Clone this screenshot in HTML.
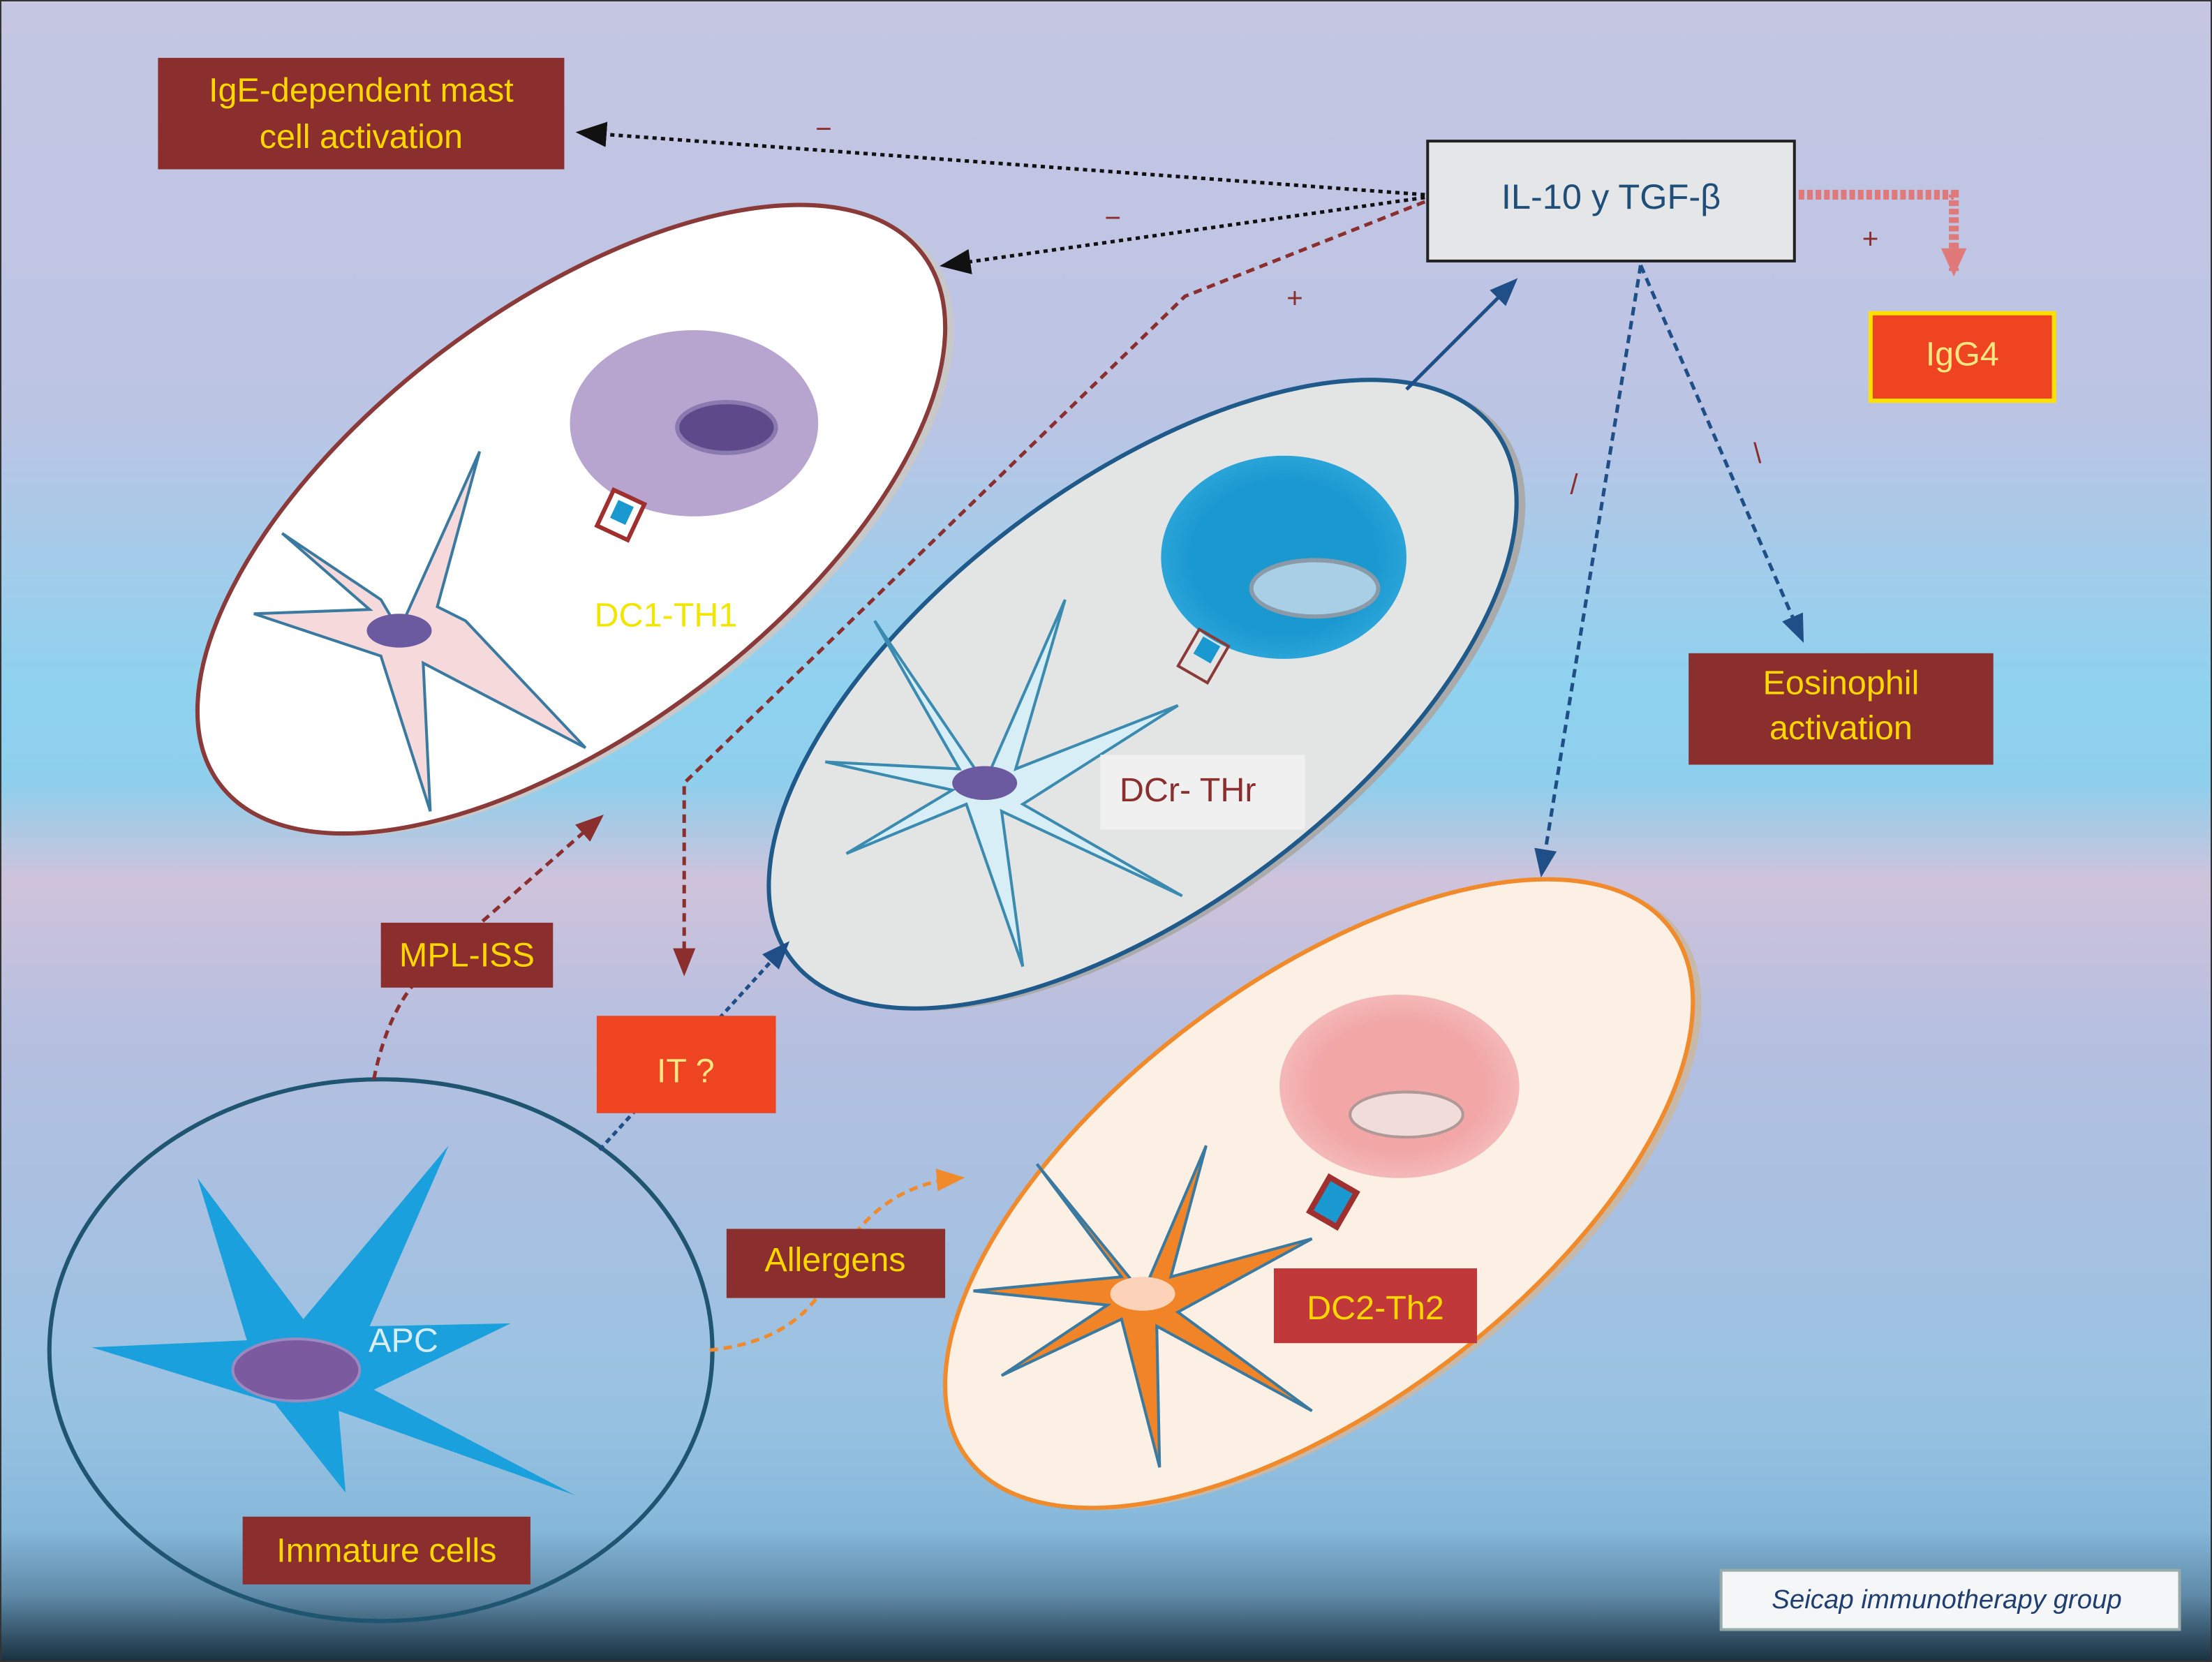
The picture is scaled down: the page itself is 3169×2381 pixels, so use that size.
<!DOCTYPE html>
<html><head><meta charset="utf-8"><style>
html,body{margin:0;padding:0;background:#fff}
svg{display:block}
text{font-family:"Liberation Sans",sans-serif}
</style></head><body>
<svg width="3169" height="2381" viewBox="0 0 1568 1178" preserveAspectRatio="none" xmlns="http://www.w3.org/2000/svg">
<defs>
<linearGradient id="bg" x1="0" y1="0" x2="0" y2="1">
<stop offset="0" stop-color="#c4c6e2"/>
<stop offset="0.25" stop-color="#bcc4e4"/>
<stop offset="0.41" stop-color="#8fd2ef"/>
<stop offset="0.47" stop-color="#8dcfec"/>
<stop offset="0.53" stop-color="#cfc3db"/>
<stop offset="0.62" stop-color="#b6bfe0"/>
<stop offset="0.85" stop-color="#98c2e2"/>
<stop offset="0.92" stop-color="#86b8da"/>
<stop offset="0.96" stop-color="#5f8aa8"/>
<stop offset="1" stop-color="#18303f"/>
</linearGradient>
<radialGradient id="blueC" cx="0.5" cy="0.5" r="0.5"><stop offset="0.75" stop-color="#1a98d0"/><stop offset="1" stop-color="#2aa4d8"/></radialGradient>
<radialGradient id="pinkC" cx="0.5" cy="0.5" r="0.5"><stop offset="0.7" stop-color="#f2a6a6"/><stop offset="1" stop-color="#f4b8b8"/></radialGradient>
<marker id="ak" markerWidth="22" markerHeight="18" refX="18" refY="9" orient="auto" markerUnits="userSpaceOnUse" viewBox="0 0 22 18"><path d="M0,0 L22,9 L0,18 z" fill="#111"/></marker>
<marker id="ab" markerWidth="20" markerHeight="16" refX="16" refY="8" orient="auto" markerUnits="userSpaceOnUse" viewBox="0 0 20 16"><path d="M0,0 L20,8 L0,16 z" fill="#1f4f86"/></marker>
<marker id="ar" markerWidth="20" markerHeight="16" refX="16" refY="8" orient="auto" markerUnits="userSpaceOnUse" viewBox="0 0 20 16"><path d="M0,0 L20,8 L0,16 z" fill="#8b2e2e"/></marker>
<marker id="ao" markerWidth="20" markerHeight="16" refX="16" refY="8" orient="auto" markerUnits="userSpaceOnUse" viewBox="0 0 20 16"><path d="M0,0 L20,8 L0,16 z" fill="#f08a2a"/></marker>
<marker id="ap" markerWidth="20" markerHeight="18" refX="16" refY="9" orient="auto" markerUnits="userSpaceOnUse" viewBox="0 0 20 18"><path d="M0,0 L20,9 L0,18 z" fill="#e07a7a"/></marker>
</defs>
<rect x="0" y="0" width="1568" height="1178" fill="url(#bg)" stroke="#333" stroke-width="2"/>

<!-- ellipses -->
<g transform="translate(405,368) rotate(-37)">
<ellipse rx="312" ry="150" fill="#c8c8c8" transform="translate(4,5)"/>
<ellipse rx="312" ry="150" fill="#ffffff" stroke="#8b3a3a" stroke-width="3"/></g>
<g transform="translate(810,492) rotate(-37)">
<ellipse rx="312" ry="150" fill="#aaa" transform="translate(4,5)"/>
<ellipse rx="312" ry="150" fill="#e3e5e5" stroke="#1f5a8a" stroke-width="3"/></g>
<g transform="translate(935,846) rotate(-37)">
<ellipse rx="312" ry="150" fill="#c8b8a8" transform="translate(4,5)"/>
<ellipse rx="312" ry="150" fill="#fcefe3" stroke="#f08a2a" stroke-width="3"/></g>
<ellipse cx="270" cy="957" rx="235" ry="192" fill="none" stroke="#1f5570" stroke-width="3"/>

<!-- T cells -->
<ellipse cx="492" cy="300" rx="88" ry="66" fill="#b7a4cf"/>
<ellipse cx="515" cy="303" rx="35" ry="18" fill="#5e4a8a" stroke="#8a7ab0" stroke-width="3"/>
<ellipse cx="910" cy="395" rx="87" ry="72" fill="url(#blueC)"/>
<ellipse cx="932" cy="417" rx="45" ry="20" fill="#a8cfe6" stroke="#8a9aa8" stroke-width="3"/>
<ellipse cx="992" cy="770" rx="85" ry="65" fill="url(#pinkC)"/>
<ellipse cx="997" cy="790" rx="40" ry="16" fill="#f0dcd8" stroke="#b09898" stroke-width="2"/>

<!-- receptors -->
<g transform="translate(440,365) rotate(25)"><rect x="-12" y="-14" width="24" height="28" fill="#fff" stroke="#a03030" stroke-width="3"/><rect x="-6" y="-9" width="12" height="14" fill="#1a98d0"/></g>
<g transform="translate(853,465) rotate(30)"><rect x="-12" y="-15" width="24" height="30" fill="none" stroke="#8b3a3a" stroke-width="2"/><rect x="-7" y="-12" width="14" height="14" fill="#1a98d0"/></g>
<g transform="translate(945,852) rotate(30)"><rect x="-11" y="-14" width="22" height="28" fill="#1a98d0" stroke="#a03030" stroke-width="4"/></g>

<!-- stars -->
<path d="M283,447 L340,320 L310,430 L330,440 L415,530 L300,470 L305,575 L270,465 L180,435 L262,432 L200,378 L270,425 Z" fill="#f6d9da" stroke="#3b7aa0" stroke-width="2"/>
<ellipse cx="283" cy="447" rx="23" ry="12" fill="#6b5aa0"/>
<path d="M698,555 L755,425 L720,545 L835,500 L725,570 L838,635 L710,575 L725,685 L685,570 L600,605 L675,560 L585,540 L680,545 L620,440 Z" fill="#d7eef6" stroke="#3b8ab0" stroke-width="2"/>
<ellipse cx="698" cy="555" rx="23" ry="12" fill="#6b5aa0"/>
<path d="M810,917 L855,812 L830,905 L930,878 L835,930 L930,1000 L820,940 L822,1040 L795,935 L710,975 L785,925 L690,915 L795,905 L735,825 Z" fill="#f08426" stroke="#3b7aa0" stroke-width="2"/>
<ellipse cx="810" cy="917" rx="23" ry="12" fill="#fcd2b8"/>
<path d="M140,835 L215,935 L318,812 L262,940 L362,938 L265,985 L408,1060 L240,1000 L245,1058 L195,995 L65,955 L175,950 Z" fill="#1aa0dc"/>
<ellipse cx="210" cy="971" rx="45" ry="22" fill="#7b5aa0" stroke="#9a8ac0" stroke-width="2"/>

<!-- arrows -->
<line x1="1010" y1="138" x2="412" y2="94" stroke="#111" stroke-width="2.5" stroke-dasharray="3,3" marker-end="url(#ak)"/>
<line x1="1010" y1="140" x2="670" y2="188" stroke="#111" stroke-width="2.5" stroke-dasharray="3,3" marker-end="url(#ak)"/>
<path d="M1010,143 L840,210 L485,555 L485,688" fill="none" stroke="#8b2e2e" stroke-width="2.5" stroke-dasharray="6,4" marker-end="url(#ar)"/>
<line x1="997" y1="276" x2="1073" y2="200" stroke="#1f4f86" stroke-width="2.5" marker-end="url(#ab)"/>
<line x1="1163" y1="188" x2="1093" y2="618" stroke="#1f4f86" stroke-width="2.5" stroke-dasharray="6,4" marker-end="url(#ab)"/>
<line x1="1163" y1="188" x2="1277" y2="452" stroke="#1f4f86" stroke-width="2.5" stroke-dasharray="6,4" marker-end="url(#ab)"/>
<path d="M1275,138 L1385,138 L1385,192" fill="none" stroke="#e07a7a" stroke-width="7" stroke-dasharray="4,2" marker-end="url(#ap)"/>
<path d="M265,765 Q275,715 300,690 L425,580" fill="none" stroke="#8b2e2e" stroke-width="2.5" stroke-dasharray="6,4" marker-end="url(#ar)"/>
<line x1="425" y1="815" x2="557" y2="670" stroke="#1f4f86" stroke-width="2.5" stroke-dasharray="4,3" marker-end="url(#ab)"/>
<path d="M503,957 Q570,950 590,900 Q620,840 680,835" fill="none" stroke="#f08a2a" stroke-width="2.5" stroke-dasharray="6,4" marker-end="url(#ao)"/>

<!-- signs -->
<g fill="#8b2e2e" font-size="20">
<text x="578" y="98">−</text><text x="783" y="161">−</text><text x="912" y="218">+</text><text x="1320" y="176">+</text>
<text x="1113" y="350">/</text><text x="1243" y="328">\</text></g>

<!-- boxes -->
<rect x="112" y="41" width="288" height="79" fill="#8b2e2e"/>
<text x="256" y="72" text-anchor="middle" font-size="24" fill="#ffd700">IgE-dependent mast</text>
<text x="256" y="105" text-anchor="middle" font-size="24" fill="#ffd700">cell activation</text>
<rect x="1012" y="100" width="260" height="85" fill="#e4e6e8" stroke="#222" stroke-width="2"/>
<text x="1142" y="148" text-anchor="middle" font-size="25" fill="#1f4e79">IL-10 y TGF-β</text>
<rect x="1326" y="222" width="130" height="62" fill="#ee4422" stroke="#ffe000" stroke-width="3"/>
<text x="1391" y="259" text-anchor="middle" font-size="24" fill="#ffe680">IgG4</text>
<rect x="1197" y="463" width="216" height="79" fill="#8b2e2e"/>
<text x="1305" y="492" text-anchor="middle" font-size="24" fill="#ffd700">Eosinophil</text>
<text x="1305" y="524" text-anchor="middle" font-size="24" fill="#ffd700">activation</text>
<rect x="270" y="654" width="122" height="46" fill="#8b2e2e"/>
<text x="331" y="685" text-anchor="middle" font-size="24" fill="#ffd700">MPL-ISS</text>
<rect x="423" y="720" width="127" height="69" fill="#ee4422"/>
<text x="486" y="767" text-anchor="middle" font-size="24" fill="#ffe680">IT ?</text>
<rect x="515" y="871" width="155" height="49" fill="#8b2e2e"/>
<text x="592" y="901" text-anchor="middle" font-size="24" fill="#ffd700">Allergens</text>
<rect x="903" y="899" width="144" height="53" fill="#c0383a"/>
<text x="975" y="935" text-anchor="middle" font-size="24" fill="#ffd700">DC2-Th2</text>
<rect x="172" y="1075" width="204" height="48" fill="#8b2e2e"/>
<text x="274" y="1107" text-anchor="middle" font-size="24" fill="#ffd700">Immature cells</text>
<rect x="780" y="535" width="145" height="53" fill="#f0f0f0"/>
<text x="842" y="568" text-anchor="middle" font-size="24" fill="#8b2e2e">DCr- THr</text>
<text x="472" y="444" text-anchor="middle" font-size="24" fill="#f2e600">DC1-TH1</text>
<text x="286" y="958" text-anchor="middle" font-size="24" fill="#d8ecf4">APC</text>
<rect x="1220" y="1113" width="325" height="42" fill="#f4f6f8" stroke="#9aa" stroke-width="2"/>
<text x="1380" y="1140" text-anchor="middle" font-size="19" font-style="italic" fill="#1f3f70">Seicap immunotherapy group</text>
</svg>
</body></html>
